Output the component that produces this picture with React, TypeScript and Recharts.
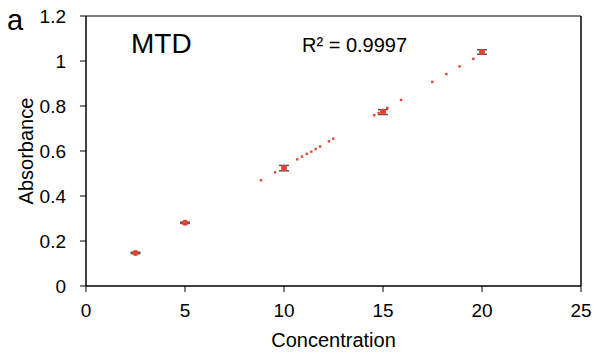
import { ErrorBar, ReferenceLine, Scatter, ScatterChart, XAxis, YAxis, Label } from "recharts";

// calibration standards (mean absorbance, sd)
const concentrations = [2.5, 5, 10, 15, 20];
const absorbance = [0.147, 0.281, 0.524, 0.773, 1.04];
const absorbanceSd = [0.003, 0.003, 0.012, 0.011, 0.01];

// visible dots of the dotted linear fit
const fitX = [8.84, 9.55, 10.67, 10.91, 11.15, 11.38, 11.6, 11.82, 12.27, 12.49, 14.56, 14.78, 15.22, 15.91, 17.49, 18.2, 18.87, 19.56];
const fitY = [0.47, 0.505, 0.563, 0.575, 0.587, 0.597, 0.609, 0.62, 0.643, 0.655, 0.759, 0.769, 0.792, 0.827, 0.907, 0.942, 0.976, 1.01];

const xTicks = [0, 5, 10, 15, 20, 25];
const yTicks = [0, 0.2, 0.4, 0.6, 0.8, 1, 1.2];

const RED = "#e5432f";
const FONT = "'Liberation Sans', Arial, sans-serif";

const standards = concentrations.map((c, i) => ({ x: c, y: absorbance[i], err: absorbanceSd[i] }));
const fitDots = fitX.map((x, i) => ({ x, y: fitY[i] }));

const tickStyle = { fontSize: 19, fill: "#000", fontFamily: FONT };

export default function App() {
  return (
    <div style={{ position: "absolute", left: 0, top: 0, width: 597, height: 360, background: "#fff" }}>
      <ScatterChart width={597} height={360} margin={{ top: 16, right: 16, bottom: 0, left: 0 }}>
        <XAxis
          type="number"
          dataKey="x"
          domain={[0, 25]}
          ticks={xTicks}
          interval={0}
          height={74}
          tickSize={6}
          tickMargin={12}
          tick={tickStyle}
          axisLine={{ stroke: "#000", strokeWidth: 1.5 }}
          tickLine={{ stroke: "#000" }}
        >
          <Label value="Concentration" position="insideBottom" offset={13} style={{ fontSize: 20, fill: "#000", fontFamily: FONT }} />
        </XAxis>
        <YAxis
          type="number"
          dataKey="y"
          domain={[0, 1.2]}
          ticks={yTicks}
          interval={0}
          width={86}
          tickSize={6}
          tickMargin={14}
          tick={tickStyle}
          tickFormatter={(v) => String(v)}
          axisLine={{ stroke: "#000", strokeWidth: 1.5 }}
          tickLine={{ stroke: "#000" }}
        />
        <ReferenceLine y={1.2} stroke="#000" strokeWidth={1.2} />
        <ReferenceLine x={25} stroke="#000" strokeWidth={1.5} />
        <Scatter
          data={fitDots}
          isAnimationActive={false}
          shape={(p: any) => <rect x={p.cx - 1.2} y={p.cy - 1.2} width={2.4} height={2.4} fill={RED} />}
        />
        <Scatter
          data={standards}
          isAnimationActive={false}
          shape={(p: any) => <circle cx={p.cx} cy={p.cy} r={3} fill={RED} />}
        >
          <ErrorBar dataKey="err" direction="y" width={5} stroke="#555" strokeWidth={1.5} />
        </Scatter>
      </ScatterChart>
      <svg width={597} height={360} style={{ position: "absolute", left: 0, top: 0, pointerEvents: "none" }}>
        <text x={7} y={30} fontSize={29} fontFamily={FONT} fill="#000">a</text>
        <text x={131} y={53} fontSize={28} fontFamily={FONT} fill="#000">MTD</text>
        <text x={302} y={52} fontSize={20} fontFamily={FONT} fill="#000">R² = 0.9997</text>
        <text
          x={33}
          y={151}
          fontSize={20}
          fontFamily={FONT}
          fill="#000"
          textAnchor="middle"
          transform="rotate(-90 33 151)"
        >
          Absorbance
        </text>
      </svg>
    </div>
  );
}
